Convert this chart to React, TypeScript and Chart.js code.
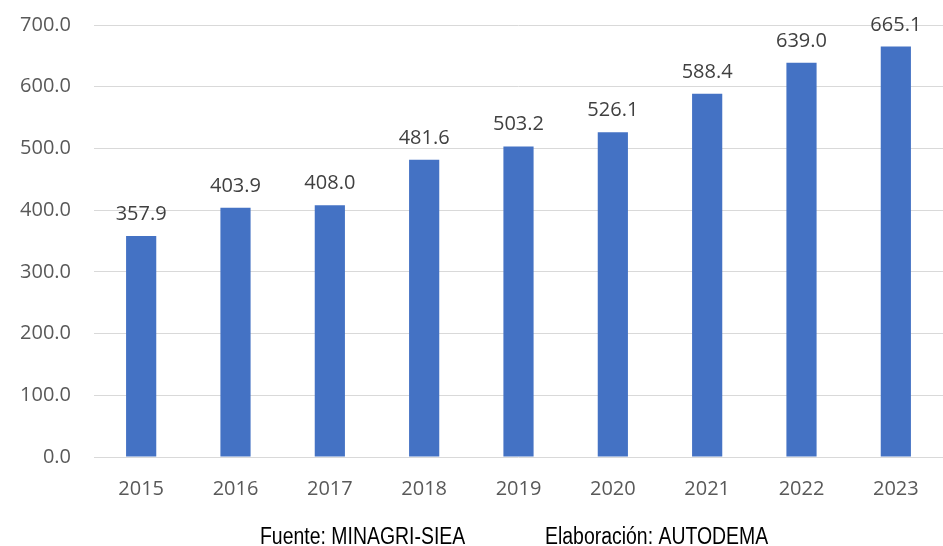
import React, { useEffect, useRef } from "react";
import { Chart, registerables } from "chart.js";

Chart.register(...registerables);

const years = ["2015", "2016", "2017", "2018", "2019", "2020", "2021", "2022", "2023"];
const values = [357.9, 403.9, 408.0, 481.6, 503.2, 526.1, 588.4, 639.0, 665.1];
const footerLeft = "Fuente: MINAGRI-SIEA";
const footerRight = "Elaboración: AUTODEMA";

const labelPlugin = {
  id: "barLabels",
  afterDatasetsDraw(chart: any) {
    const ctx = chart.ctx;
    const meta = chart.getDatasetMeta(0);
    ctx.save();
    ctx.font = "20px 'Open Sans'";
    ctx.fillStyle = "#404040";
    ctx.textAlign = "center";
    ctx.textBaseline = "alphabetic";
    meta.data.forEach((bar: any, i: number) => {
      ctx.fillText(values[i].toFixed(1), bar.x, bar.y - 16);
    });
    ctx.restore();
  },
};

const footerPlugin = {
  id: "footer",
  afterDraw(chart: any) {
    const ctx = chart.ctx;
    ctx.save();
    ctx.fillStyle = "#000000";
    ctx.textAlign = "left";
    ctx.textBaseline = "alphabetic";
    ctx.font = "23px 'Liberation Sans'";
    const sx = 0.845;
    ctx.scale(sx, 1);
    ctx.fillText(footerLeft, 260 / sx, 544);
    ctx.fillText(footerRight, 545 / sx, 544);
    ctx.restore();
  },
};

export default function App() {
  const ref = useRef<HTMLCanvasElement>(null);
  useEffect(() => {
    if (!ref.current) return;
    const chart = new Chart(ref.current, {
      type: "bar",
      data: {
        labels: years,
        datasets: [
          {
            data: values,
            backgroundColor: "#4472C4",
            barPercentage: 0.32,
            categoryPercentage: 1,
          },
        ],
      },
      options: {
        animation: false,
        responsive: false,
        layout: { padding: { top: 25, right: 0, left: 0, bottom: 0 } },
        plugins: { legend: { display: false }, tooltip: { enabled: false } },
        scales: {
          x: {
            grid: { display: false, drawTicks: false },
            border: { display: false },
            ticks: {
              color: "#595959",
              font: { family: "'Open Sans'", size: 20 },
              padding: 20,
              maxRotation: 0,
            },
            afterFit(scale: any) {
              scale.height = 89;
            },
          },
          y: {
            min: 0,
            max: 700,
            grid: { color: "#d9d9d9", lineWidth: 1, drawTicks: false },
            border: { display: false },
            ticks: {
              stepSize: 100,
              color: "#595959",
              font: { family: "'Open Sans'", size: 20, lineHeight: 0.5 },
              padding: 23,
              callback: (v: any) => Number(v).toFixed(1),
            },
            afterFit(scale: any) {
              scale.width = 94;
              scale.paddingTop = 0;
              scale.paddingBottom = 0;
            },
          },
        },
      },
      plugins: [labelPlugin, footerPlugin],
    });
    return () => chart.destroy();
  }, []);
  return (
    <div style={{ position: "absolute", left: 0, top: 0, width: 943, height: 546, background: "#fff" }}>
      <canvas ref={ref} width={943} height={546} style={{ display: "block" }} />
    </div>
  );
}
